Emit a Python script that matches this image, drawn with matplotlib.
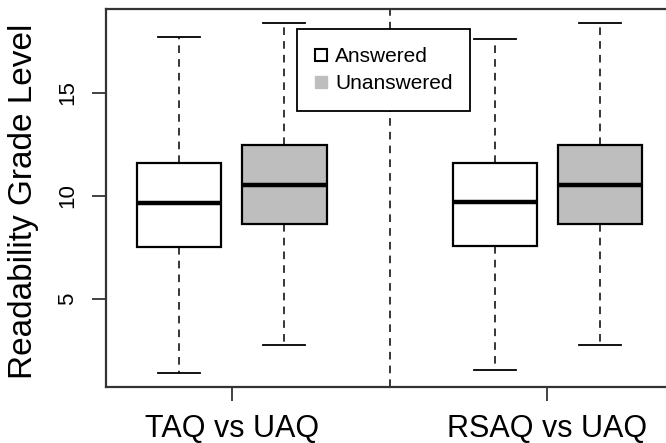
import matplotlib
matplotlib.use("Agg")
import matplotlib.pyplot as plt
from matplotlib.lines import Line2D

plt.rcParams['font.family'] = ['Liberation Sans', 'DejaVu Sans']

# data
groups = ["TAQ vs UAQ", "RSAQ vs UAQ"]
series = ["Answered", "Unanswered"]
colors = ["white", "#bebebe"]

# answered boxes (one per group)
ans_lo = [1.43, 1.57]
ans_q1 = [7.52, 7.59]
ans_med = [9.65, 9.71]
ans_q3 = [11.59, 11.59]
ans_hi = [17.72, 17.62]

# unanswered boxes
una_lo = [2.79, 2.79]
una_q1 = [8.66, 8.66]
una_med = [10.55, 10.55]
una_q3 = [12.49, 12.49]
una_hi = [18.38, 18.38]

yticks = [5, 10, 15]

fig = plt.figure(figsize=(6.66, 4.43), dpi=100)
# right spine sits just past the image edge, as in the reference
ax = fig.add_axes([105.7/666, 1-386.7/443, (673.5-105.7)/666, (386.7-9.3)/443])

def stats(lo, q1, med, q3, hi):
    return [dict(whislo=lo[i], q1=q1[i], med=med[i], q3=q3[i], whishi=hi[i], fliers=[])
            for i in range(len(lo))]

all_stats = [stats(ans_lo, ans_q1, ans_med, ans_q3, ans_hi),
             stats(una_lo, una_q1, una_med, una_q3, una_hi)]

for s in range(2):
    pos = [g*3 + 1 + s for g in range(len(groups))]
    ax.bxp(all_stats[s], positions=pos, widths=0.8, patch_artist=True,
           showfliers=False,
           boxprops=dict(facecolor=colors[s], edgecolor='black', linewidth=1.6),
           medianprops=dict(color='black', linewidth=3.2, solid_capstyle='butt'),
           whiskerprops=dict(color='black', linewidth=1.1, linestyle=(0, (5, 4))),
           capprops=dict(color='black', linewidth=1.3),
           capwidths=0.4, manage_ticks=False)

# separator between the two groups
ax.axvline(3, color='black', linewidth=1.1, linestyle=(0, (5, 4)), zorder=1)

ax.set_xlim(0.3, 5.7)
ax.set_ylim(0.756, 19.05)

ax.set_xticks([g*3 + 1.5 for g in range(len(groups))])
ax.set_xticklabels(groups, fontsize=22)
ax.set_yticks(yticks)
ax.set_yticklabels([str(t) for t in yticks], fontsize=16, rotation=90, va='center')
ax.tick_params(axis='both', length=9.8, width=1.3, color='#333333')
ax.tick_params(axis='x', pad=10)
ax.tick_params(axis='y', pad=10)
ax.set_ylabel("Readability Grade Level", fontsize=24, va='center')
ax.yaxis.set_label_coords(-0.144, 0.49)

for sp in ['left', 'bottom', 'top']:
    ax.spines[sp].set_linewidth(1.6)
    ax.spines[sp].set_color('#333333')
ax.spines['right'].set_visible(False)

handles = [Line2D([], [], marker='s', linestyle='none', markersize=8,
                  markerfacecolor='white', markeredgecolor='black', markeredgewidth=1.5),
           Line2D([], [], marker='s', linestyle='none', markersize=8,
                  markerfacecolor='#bebebe', markeredgecolor='#bebebe')]
leg = ax.legend(handles, series, loc='upper left', bbox_to_anchor=(296.7/666, 1-29.3/443),
                bbox_transform=fig.transFigure, fontsize=15, frameon=True, fancybox=False,
                edgecolor='black', framealpha=1, handletextpad=0.3, borderpad=0.84,
                labelspacing=0.4, handlelength=0.7, borderaxespad=0)
leg.get_frame().set_linewidth(1.3)

fig.savefig("out.png", dpi=100)
